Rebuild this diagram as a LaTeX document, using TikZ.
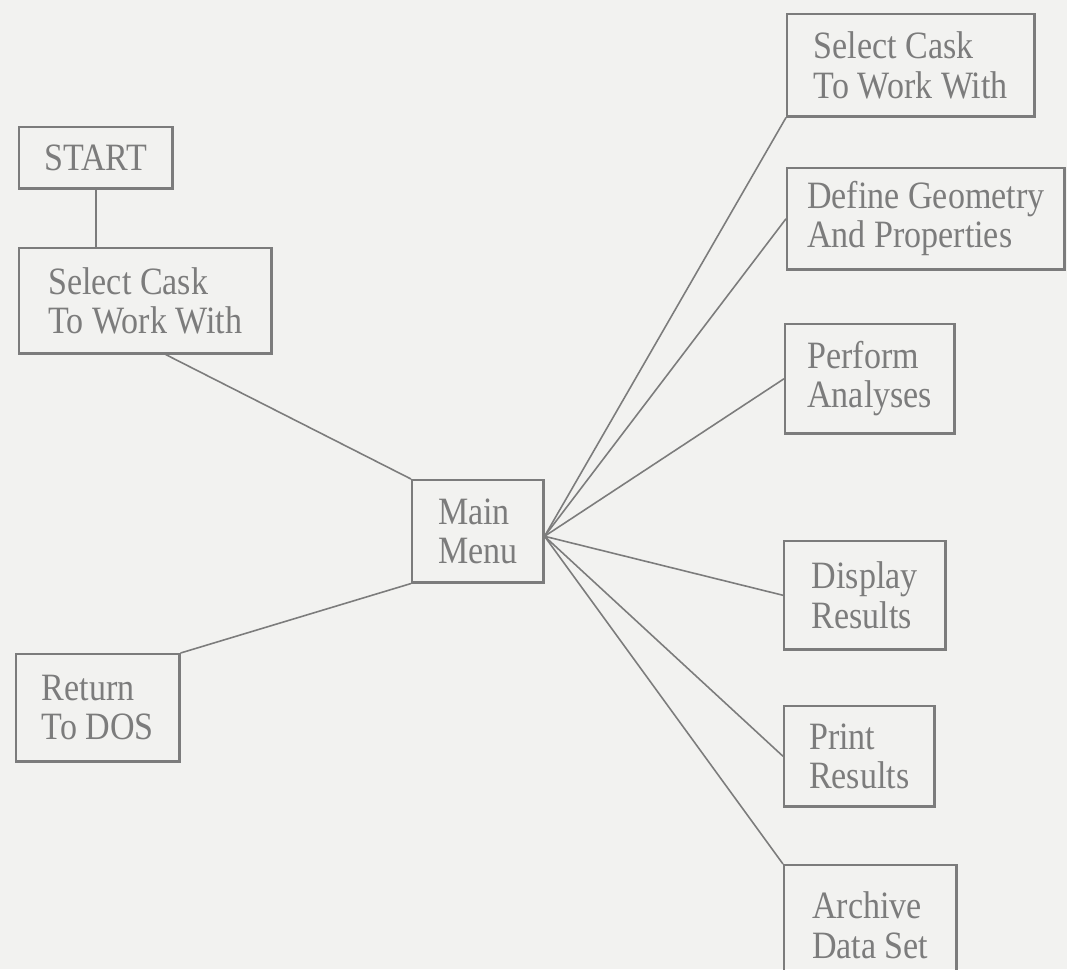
\documentclass[tikz,border=0pt]{standalone}
\usepackage{fontspec}
\setmainfont{Liberation Serif}[FakeStretch=0.88]
\usepackage{xcolor}
\definecolor{paper}{HTML}{F2F2F0}
\definecolor{ink}  {HTML}{7C7C7C}
\usetikzlibrary{calc}

\begin{document}
\begin{tikzpicture}[x=0.01cm, y=-0.01cm,
    menubox/.style={draw=ink, line width=0.7pt, rectangle, anchor=north west,
                    align=left, inner xsep=1mm, inner ysep=0pt, text=ink,
                    font=\fontsize{11}{11.2}\selectfont},
    link/.style={draw=ink, line width=0.45pt}]

    % --- page: scanned paper, fixed frame
    \fill[paper] (0,0) rectangle (1067,969);
    \useasboundingbox (0,0) rectangle (1067,969);
    \clip (0,0) rectangle (1067,969);

    % --- left column: entry and exit
    \node[menubox, minimum width=1.53cm, minimum height=0.61cm] (start) at (18,126) {START};
    \node[menubox, minimum width=2.52cm, minimum height=1.05cm] (selL) at (18,247) {Select Cask\\To Work With};
    \node[menubox, minimum width=1.63cm, minimum height=1.07cm] (dos) at (15,653) {Return\\To DOS};

    % --- hub
    \node[menubox, minimum width=1.31cm, minimum height=1.02cm] (menu) at (411,479) {Main\\Menu};
    \coordinate (hub) at ($(menu.east)+(0,5)$);

    % --- right column: menu choices
    \node[menubox, minimum width=2.47cm, minimum height=1.02cm] (selR) at (786,13) {Select Cask\\To Work With};
    \node[menubox, minimum width=2.77cm, minimum height=1.01cm] (geom) at (786,167) {Define Geometry\\And Properties};
    \node[menubox, minimum width=1.69cm, minimum height=1.09cm] (perf) at (784,323) {Perform\\Analyses};
    \node[menubox, minimum width=1.61cm, minimum height=1.08cm] (disp) at (783,540) {Display\\Results};
    \node[menubox, minimum width=1.50cm, minimum height=1.00cm] (print) at (783,705) {Print\\Results};
    \node[menubox, minimum width=1.72cm, minimum height=1.20cm] (arch) at (783,864) {Archive\\Data Set};

    % --- connectors
    \draw[link] (start.south) -- (start.south |- selL.north);
    \draw[link] ($(selL.south west)!0.58!(selL.south east)$) -- (menu.north west);
    \draw[link] (dos.north east) -- (menu.south west);
    \draw[link] (hub) -- (selR.south west);
    \draw[link] (hub) -- (geom.west);
    \draw[link] (hub) -- (perf.west);
    \draw[link] (hub) -- (disp.west);
    \draw[link] (hub) -- (print.west);
    \draw[link] (hub) -- (arch.north west);
\end{tikzpicture}
\end{document}
